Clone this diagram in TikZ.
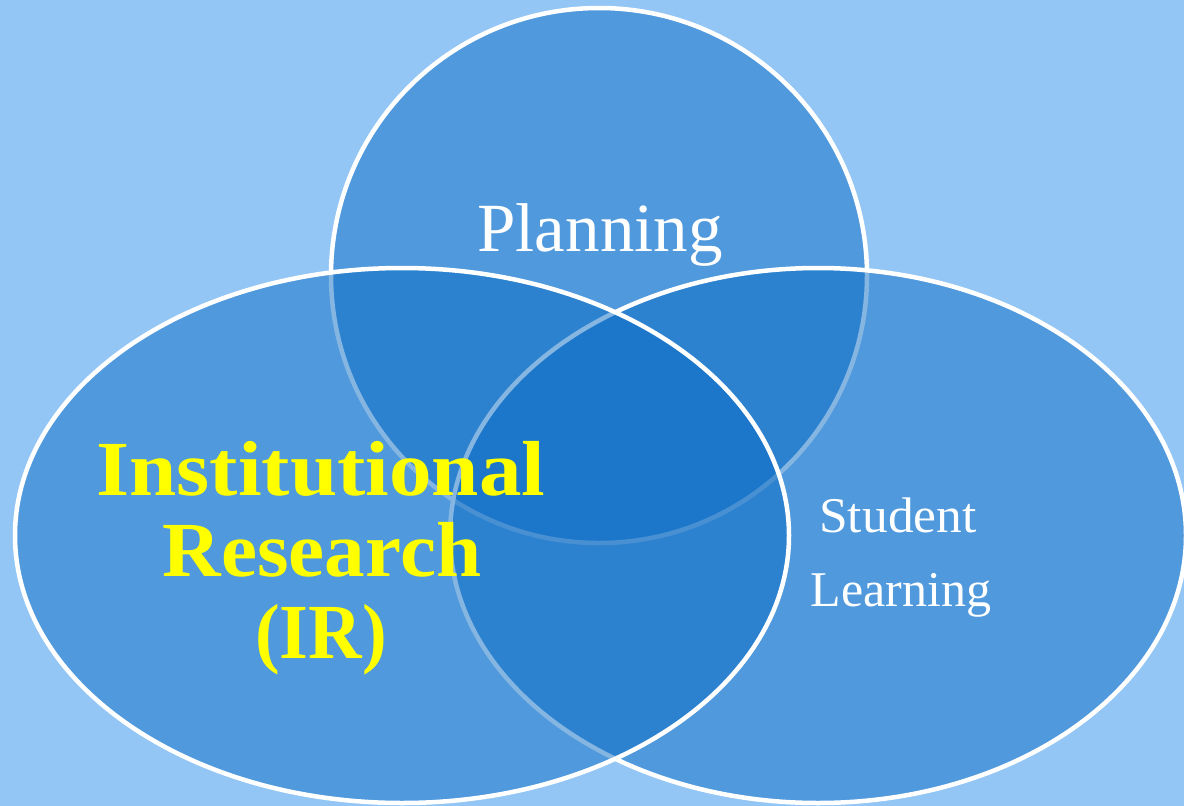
\documentclass[tikz,border=0pt]{standalone}
\usepackage{fontspec}
\setmainfont{Liberation Serif}
\definecolor{bgblue}{RGB}{147,198,245}
\definecolor{setblue}{RGB}{12,109,197}
\definecolor{irYellow}{RGB}{255,255,0}
\tikzset{
  setshape/.style={fill=setblue, fill opacity=0.5, draw=white, draw opacity=1, line width=4.5pt},
  whitelbl/.style={text=white, inner sep=0pt, anchor=base},
  irlbl/.style={text=irYellow, inner sep=0pt, anchor=base, font=\fontsize{78}{80}\selectfont\bfseries}
}
\begin{document}
\begin{tikzpicture}[x=1pt,y=-1pt]
  \fill[bgblue] (0,0) rectangle (1184,806);
  \useasboundingbox (0,0) rectangle (1184,806);
  % sets: top, right, left (drawing order matters)
  \path[setshape] (599,275.5) ellipse [x radius=268, y radius=267.5];
  \path[setshape] (818,535.5) ellipse [x radius=368, y radius=267.5];
  \path[setshape] (402,535.5) ellipse [x radius=387, y radius=267.5];
  % labels
  \node[whitelbl, font=\fontsize{69}{69}\selectfont] (plan) at (600,251) {Planning};
  \node[whitelbl, font=\fontsize{50}{50}\selectfont] (stud) at (898,532) {\scalebox{1.03}[1]{Student}};
  \node[whitelbl, font=\fontsize{50}{50}\selectfont] (learn) at (901,606) {Learning};
  \node[irlbl] (ir1) at (321,495) {\scalebox{1.09}[1]{Institutional}};
  \node[irlbl] (ir2) at (322,576) {\scalebox{1.04}[1]{Research}};
  \node[irlbl] (ir3) at (321,658) {\scalebox{0.95}[1]{(IR)}};
\end{tikzpicture}
\end{document}
